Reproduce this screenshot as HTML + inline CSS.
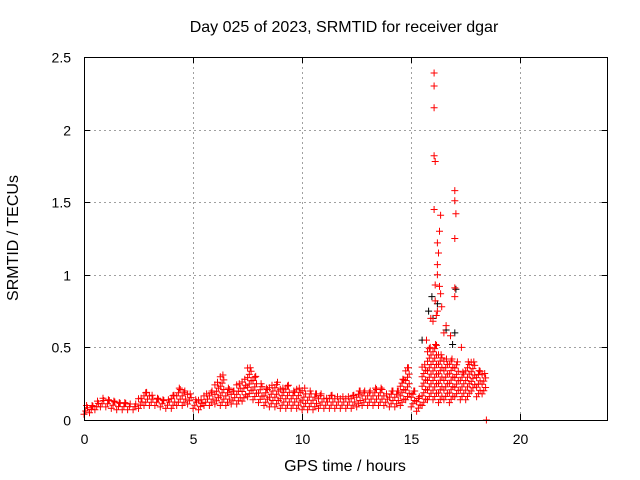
<!DOCTYPE html>
<html><head><meta charset="utf-8"><style>
body{margin:0;background:#fff}
svg{font-family:"Liberation Sans",sans-serif;display:block}
</style></head><body>
<svg id="chart" width="640" height="480">
<text x="344" y="32" font-size="16" text-anchor="middle">Day 025 of 2023, SRMTID for receiver dgar</text>
<text x="345" y="471" font-size="16" text-anchor="middle">GPS time / hours</text>
<text transform="translate(18,238) rotate(-90)" font-size="16" text-anchor="middle">SRMTID / TECUs</text>
<g id="grid"></g><g id="ticks"></g><g id="marks"></g>
<rect x="84.5" y="57.5" width="523" height="363" fill="none" stroke="#000"/>
</svg>
<script>
const xTicks=[0,5,10,15,20];
const yTicks=[0,0.5,1,1.5,2,2.5];
const yTickLabels=["0","0.5","1","1.5","2","2.5"];
const binT=[0,0.25,0.5,0.75,1,1.25,1.5,1.75,2,2.25,2.5,2.75,3,3.25,3.5,3.75,4,4.25,4.5,4.75,5,5.25,5.5,5.75,6,6.25,6.5,6.75,7,7.25,7.5,7.75,8,8.25,8.5,8.75,9,9.25,9.5,9.75,10,10.25,10.5,10.75,11,11.25,11.5,11.75,12,12.25,12.5,12.75,13,13.25,13.5,13.75,14,14.25,14.5,14.75,15,15.25,15.5,15.75,16,16.25,16.5,16.75,17,17.25,17.5,17.75,18,18.25];
const binLo=[0.04,0.05,0.07,0.09,0.09,0.08,0.07,0.07,0.07,0.07,0.08,0.1,0.1,0.1,0.09,0.08,0.08,0.1,0.1,0.11,0.08,0.07,0.1,0.1,0.11,0.1,0.1,0.11,0.11,0.13,0.16,0.14,0.12,0.1,0.09,0.09,0.08,0.08,0.08,0.08,0.07,0.07,0.07,0.08,0.08,0.08,0.08,0.08,0.08,0.08,0.09,0.1,0.1,0.1,0.1,0.1,0.09,0.09,0.1,0.14,0.09,0.06,0.1,0.14,0.14,0.12,0.14,0.12,0.16,0.14,0.14,0.2,0.16,0.18];
const binHi=[0.1,0.1,0.13,0.15,0.14,0.13,0.12,0.12,0.11,0.11,0.15,0.19,0.17,0.15,0.14,0.14,0.17,0.22,0.2,0.18,0.14,0.14,0.18,0.2,0.26,0.31,0.22,0.2,0.25,0.28,0.36,0.3,0.25,0.22,0.24,0.26,0.22,0.24,0.2,0.22,0.22,0.2,0.18,0.18,0.15,0.17,0.16,0.16,0.16,0.17,0.2,0.2,0.2,0.22,0.22,0.18,0.2,0.2,0.28,0.36,0.2,0.16,0.38,0.5,0.52,0.45,0.42,0.42,0.4,0.33,0.4,0.4,0.34,0.32];
const outT=[16.05,16.05,16.05,16.05,16.1,16.05,16.35,16.3,16.2,16.25,16.2,16.2,16.1,16.3,16.35,17.0,17.0,17.05,17.0,16.1,16.2,17.0,17.0,18.45,16.0,15.9,16.5,16.4,16.6,16.15,15.7,16.8,17.3];
const outV=[2.39,2.30,2.15,1.82,1.78,1.45,1.41,1.30,1.22,1.15,1.07,1.0,0.93,0.92,0.87,1.58,1.51,1.42,1.25,0.82,0.75,0.91,0.85,0.0,0.68,0.7,0.6,0.78,0.65,0.72,0.55,0.58,0.5];
const blkT=[15.95,16.2,15.8,17.0,17.05,16.6,15.5,16.0,16.9];
const blkV=[0.85,0.8,0.75,0.6,0.9,0.62,0.55,0.7,0.52];
const X0=84,X1=607.5,Y0=420,Y1=57;
const xs=t=>X0+(t/24)*(X1-X0);
const ys=v=>Y0-(v/2.5)*(Y0-Y1);
const NS="http://www.w3.org/2000/svg";
function el(tag,attrs,parent){const e=document.createElementNS(NS,tag);for(const k in attrs)e.setAttribute(k,attrs[k]);parent.appendChild(e);return e;}
const grid=document.getElementById('grid'),ticks=document.getElementById('ticks'),marks=document.getElementById('marks');
xTicks.forEach(t=>{const x=Math.round(xs(t))+0.5;
 if(t>0){const g=el('line',{x1:x,x2:x,y1:Y1,y2:Y0,stroke:'#a0a0a0','stroke-dasharray':'2,3'},grid);
 
 }
 const tk=el('path',{d:`M${x},${Y0}v-6M${x},${Y1}v6`,stroke:'#000'},ticks);
 
 
 const l=el('text',{x:x,y:444,'font-size':14,'text-anchor':'middle'},ticks);l.textContent=t;
 
 
});
yTicks.forEach((v,i)=>{const y=Math.round(ys(v))+0.5;
 if(v>0&&v<2.5){const g=el('line',{x1:X0,x2:X1,y1:y,y2:y,stroke:'#a0a0a0','stroke-dasharray':'2,3'},grid);
 
 }
 const tk=el('path',{d:`M${X0},${y}h6M${X1},${y}h-6`,stroke:'#000'},ticks);
 
 
 const l=el('text',{x:71,y:y+5,'font-size':14,'text-anchor':'end'},ticks);l.textContent=yTickLabels[i];
 
 
});
let dR='',dB='';
const plus=(t,v)=>{const x=xs(t),y=ys(v);return `M${(x-3.5).toFixed(1)},${y.toFixed(1)}h7M${x.toFixed(1)},${(y-3.5).toFixed(1)}v7`;};
blkT.forEach((t,i)=>{dB+=plus(t,blkV[i]);});
binT.forEach((t,i)=>{let k=0;for(let v=binLo[i];v<=binHi[i]+1e-9;v+=0.022){dR+=plus(t+(k%3)*0.08,v);k++;}dR+=plus(t+0.12,binHi[i]);});
outT.forEach((t,i)=>{dR+=plus(t,outV[i]);});
const pb=el('path',{d:dB,stroke:'#000',fill:'none'},marks);


const pr=el('path',{d:dR,stroke:'#ff0000',fill:'none'},marks);


</script>
</body></html>
